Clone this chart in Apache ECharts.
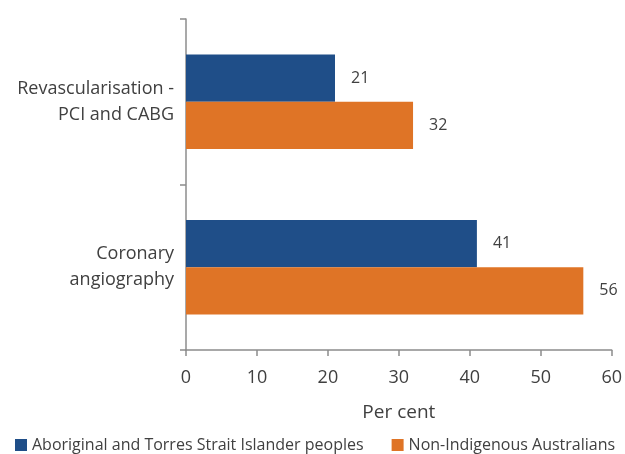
<!DOCTYPE html>
<html>
<head>
<meta charset="utf-8">
<script src="https://cdn.jsdelivr.net/npm/echarts@6/dist/echarts.min.js"></script>
<style>
  html, body { margin: 0; padding: 0; background: #fff; }
  #chart { width: 625px; height: 454px; }
</style>
</head>
<body>
<div id="chart"></div>
<script>
// categories, bottom to top (category axis starts at the bottom)
var categories = ['Coronary\nangiography', 'Revascularisation -\nPCI and CABG'];
var seriesNames = ['Aboriginal and Torres Strait Islander peoples', 'Non-Indigenous Australians'];
var indigenous = [41, 21];
var nonIndigenous = [56, 32];
var xTicks = [0, 60, 10];   // min, max, interval

var FONT = 'Open Sans';
var TXT = '#404040';

var chart = echarts.init(document.getElementById('chart'));

var option = {
    animation: false,
    textStyle: { fontFamily: FONT },
    grid: { left: 186, right: 11, top: 19, bottom: 104, containLabel: false },
    legend: {
        bottom: -4,
        left: 10,
        itemWidth: 12,
        itemHeight: 12,
        itemGap: 28,
        icon: 'rect',
        textStyle: { fontSize: 16, color: TXT, fontFamily: FONT },
        data: seriesNames
    },
    xAxis: {
        type: 'value',
        min: xTicks[0], max: xTicks[1], interval: xTicks[2],
        name: 'Per cent',
        nameLocation: 'middle',
        nameGap: 53,
        nameTextStyle: { fontSize: 19, color: TXT },
        axisLine: { show: true, lineStyle: { color: '#8c8c8c', width: 1.5 } },
        axisTick: { show: true, length: 6, lineStyle: { color: '#8c8c8c', width: 1.5 } },
        axisLabel: { fontSize: 18, color: TXT, margin: 19 },
        splitLine: { show: false }
    },
    yAxis: {
        type: 'category',
        data: categories,
        axisLine: { show: true, lineStyle: { color: '#8c8c8c', width: 1.5 } },
        axisTick: { show: true, length: 6, lineStyle: { color: '#8c8c8c', width: 1.5 } },
        axisLabel: { fontSize: 18, color: TXT, margin: 12, lineHeight: 26, align: 'right' }
    },
    series: [{
        name: seriesNames[0],
        type: 'bar',
        data: indigenous,
        barCategoryGap: '43%',
        barGap: '0%',
        itemStyle: { color: '#1f4e88' },
        label: { show: true, position: 'right', distance: 16, fontSize: 16, color: TXT }
    }, {
        name: seriesNames[1],
        type: 'bar',
        data: nonIndigenous,
        barCategoryGap: '43%',
        barGap: '0%',
        itemStyle: { color: '#df7426' },
        label: { show: true, position: 'right', distance: 16, fontSize: 16, color: TXT }
    }]
};

chart.setOption(option);
</script>
</body>
</html>
